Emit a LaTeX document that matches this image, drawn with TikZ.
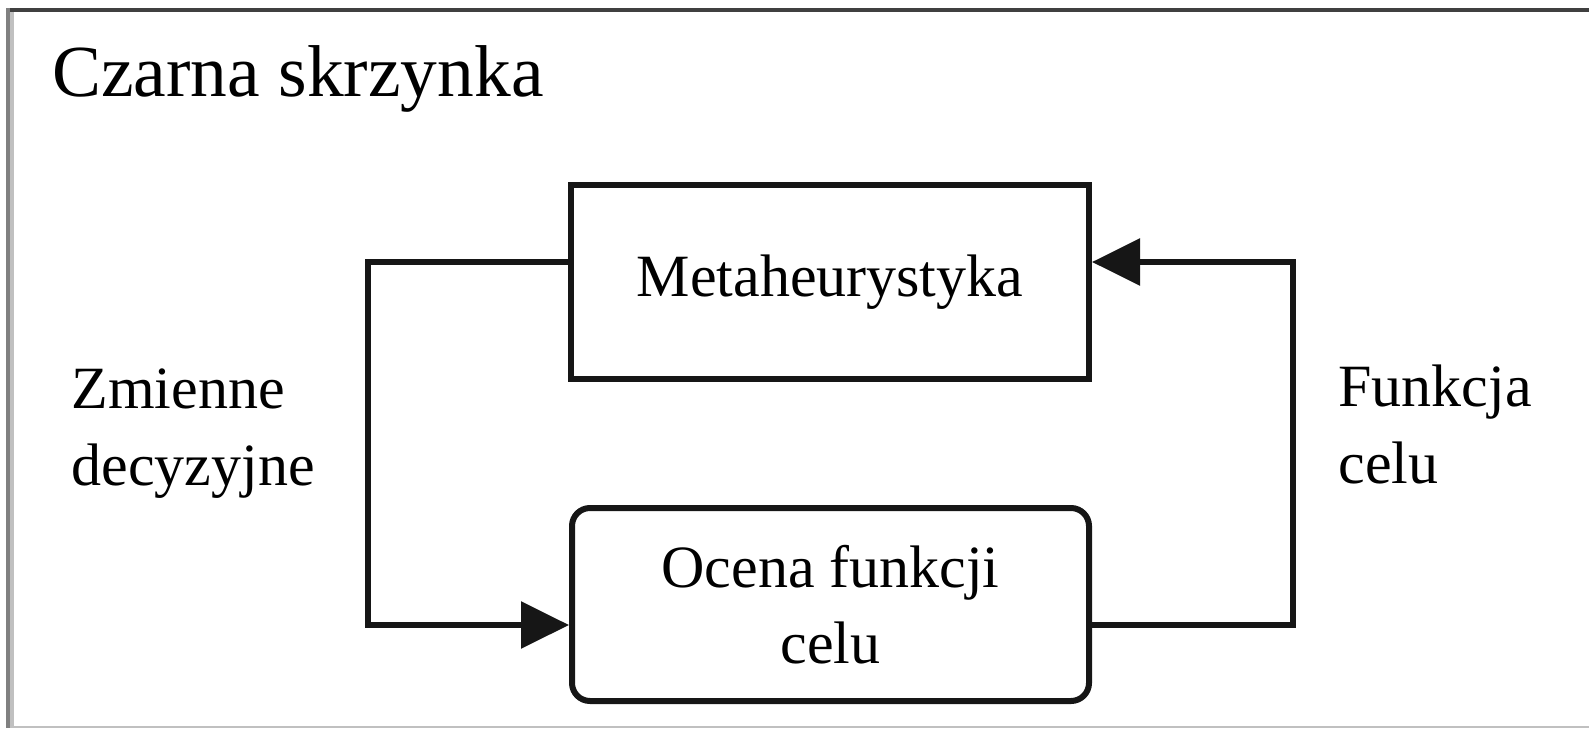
\documentclass[tikz,border=0pt]{standalone}
\usepackage{fontspec}
\setmainfont{Liberation Serif}
\usetikzlibrary{arrows.meta}
\definecolor{frameDark}{HTML}{404040}
\definecolor{frameMid}{HTML}{808080}
\definecolor{frameLight}{HTML}{C0C0C0}
\definecolor{ink}{HTML}{161616}
\tikzset{
  boxstyle/.style={draw=ink, line width=3pt, minimum width=259pt, minimum height=97pt,
    inner sep=0pt, align=center, font=\fontsize{30pt}{38pt}\selectfont},
  roundbox/.style={boxstyle, rounded corners=9pt},
  conn/.style={draw=ink, line width=3pt},
  arr/.style={conn, -{Triangle[length=24pt, width=23pt]}},
  lbl/.style={inner sep=0pt, align=left, font=\fontsize{30pt}{38.5pt}\selectfont, anchor=north west},
  titlestyle/.style={inner sep=0pt, font=\fontsize{36.7pt}{44pt}\selectfont, anchor=base west}
}
\begin{document}
\begin{tikzpicture}[x=0.5pt, y=-0.5pt]
\useasboundingbox (0,0) rectangle (1589,728);
% frame
\fill[frameDark] (6,8) rectangle (1589,12);
\fill[frameMid] (6,8) rectangle (10,728);
\fill[frameLight] (10,12) rectangle (14,728);
\fill[frameLight] (10,726) rectangle (1589,728);
% title
\node[titlestyle] (title) at (52,96) {Czarna skrzynka};
% boxes
\node[boxstyle] (meta) at (830,282) {Metaheurystyka};
\node[roundbox, minimum width=258.5pt, minimum height=96.5pt] (oc) at (830.5,604.5) {Ocena funkcji\\celu};
% labels
\node[lbl] (zm) at (71,368) {Zmienne\\decyzyjne};
\node[lbl] (fc) at (1338,364) {Funkcja\\celu};
% connectors
\coordinate (ml) at (368,262);
\coordinate (ll) at (368,625);
\coordinate (rr) at (1293,625);
\coordinate (ru) at (1293,262);
\draw[arr] (meta.west |- ml) -- (ml) -- (ll) -- (oc.west |- ll);
\draw[arr] (oc.east |- rr) -- (rr) -- (ru) -- (meta.east |- ru);
\end{tikzpicture}
\end{document}
